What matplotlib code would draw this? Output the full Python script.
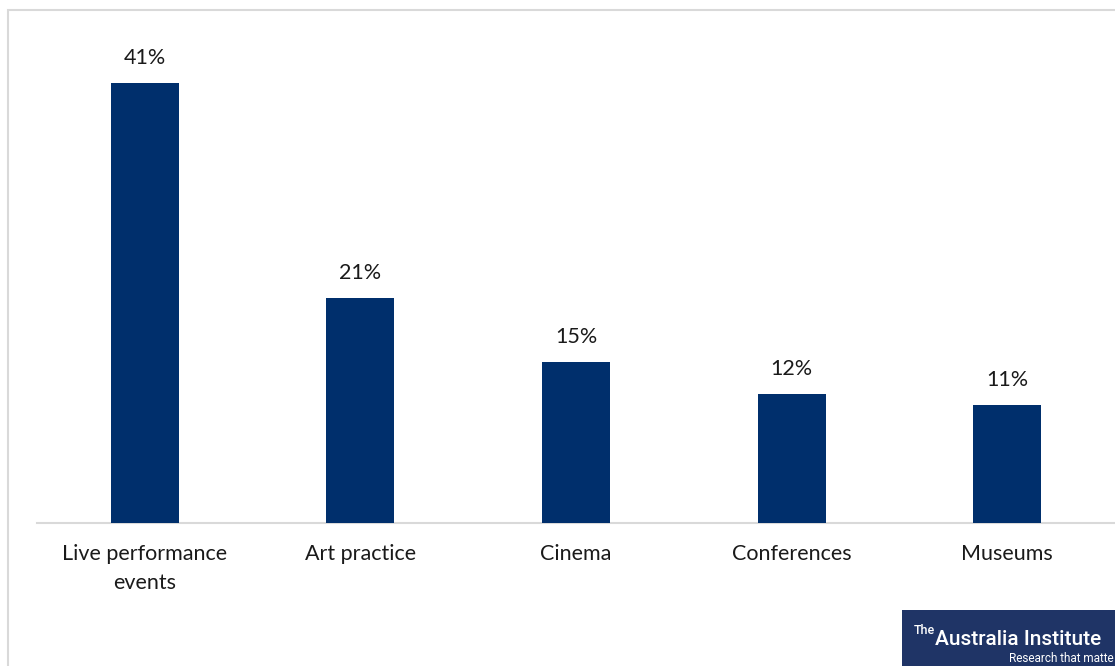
import matplotlib.pyplot as plt
from matplotlib.patches import Rectangle

categories = ["Live performance\nevents", "Art practice", "Cinema", "Conferences", "Museums"]
values = [41, 21, 15, 12, 11]

BAR_COLOR = "#002f6c"
W, H = 1115, 666

plt.rcParams["font.family"] = ["Lato", "DejaVu Sans"]

fig = plt.figure(figsize=(W / 100, H / 100), dpi=100)
# axes: x 37..1115 px, y from 523 (baseline) up to 30
ax = fig.add_axes([37 / W, (H - 523) / H, (1115 - 37) / W, (523 - 30) / H])

x = range(len(categories))
ax.bar(x, values, width=0.316, color=BAR_COLOR, zorder=3)
ax.set_xlim(-0.5, len(categories) - 0.5)
ax.set_ylim(0, 493 / 10.73)

for i, v in zip(x, values):
    ax.annotate(f"{v}%", (i, v), xytext=(0, 18), textcoords="offset points",
                ha="center", va="center", fontsize=15.5, color="#1a1a1a")

ax.set_xticks(list(x))
ax.set_xticklabels(categories, fontsize=15.5, color="#1a1a1a", linespacing=1.6, va="top")
ax.tick_params(axis="x", length=0, pad=15)
ax.set_yticks([])
for s in ["top", "right", "left"]:
    ax.spines[s].set_visible(False)
ax.spines["bottom"].set_color("#d9d9d9")
ax.spines["bottom"].set_linewidth(1.5)

# outer frame of the chart area
fig.patches.append(Rectangle((8 / W, -0.1), 1.2, (H - 10) / H + 0.1, transform=fig.transFigure,
                             fill=False, edgecolor="#d9d9d9", linewidth=1.5))

# logo box
logo_font = ["Roboto", "DejaVu Sans"]
fig.patches.append(Rectangle((902 / W, 0), (W - 902) / W, 56 / H, transform=fig.transFigure,
                             facecolor="#1f3466", edgecolor="none"))
fig.text(914 / W, (H - 630) / H, "The", color="white", fontsize=9, va="center",
         family=logo_font, weight="medium")
fig.text(935 / W, (H - 645) / H, "Australia Institute", color="white", fontsize=15,
         va="baseline", family=logo_font, weight="medium")
fig.text(1114 / W, (H - 662) / H, "Research that matte", color="white", fontsize=8.5,
         ha="right", va="baseline", family=logo_font)

fig.savefig("out.png", dpi=100)
